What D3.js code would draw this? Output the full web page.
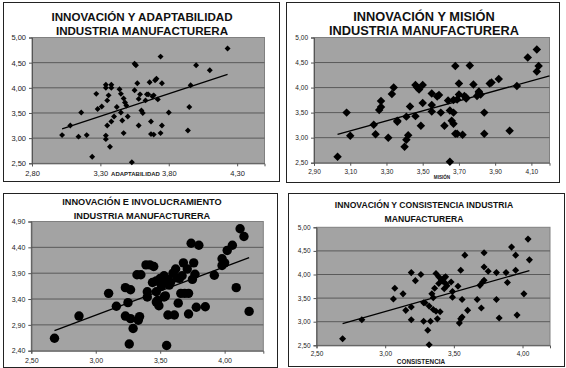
<!DOCTYPE html>
<html>
<head>
<meta charset="utf-8">
<script src="https://cdn.jsdelivr.net/npm/d3@7"></script>
<style>
  body { margin: 0; background: #fff; }
  svg { display: block; font-family: "Liberation Sans", Arial, sans-serif; }
</style>
</head>
<body>
<div id="chart"></div>
<script>
// data (x = dimension, y = innovación)
const adaptabilidad = [[3.02,3.06],[3.08,3.25],[3.14,3.03],[3.16,3.51],[3.20,3.06],[3.24,2.63],[3.27,3.88],[3.28,3.58],[3.31,3.63],[3.34,4.06],[3.34,4.00],[3.35,3.75],[3.35,3.25],[3.34,3.05],[3.34,2.98],[3.36,3.85],[3.37,2.83],[3.38,4.06],[3.38,4.00],[3.38,3.33],[3.40,3.43],[3.42,3.62],[3.44,3.97],[3.45,3.88],[3.45,3.51],[3.46,3.35],[3.47,3.10],[3.47,3.79],[3.48,3.71],[3.49,3.65],[3.50,3.43],[3.53,2.52],[3.55,3.95],[3.55,4.48],[3.56,4.45],[3.57,4.09],[3.58,3.78],[3.58,3.25],[3.59,3.87],[3.60,3.55],[3.61,3.50],[3.63,3.75],[3.64,3.87],[3.65,3.87],[3.66,4.11],[3.67,3.33],[3.67,3.08],[3.68,3.83],[3.69,3.85],[3.69,3.07],[3.70,4.15],[3.71,4.18],[3.72,3.77],[3.74,3.10],[3.74,4.62],[3.75,3.25],[3.75,4.09],[3.80,3.51],[3.94,3.15],[3.95,3.62],[3.96,4.05],[4.00,4.45],[4.10,4.35],[4.23,4.78]];

const mision = [[3.03,2.62],[3.08,3.50],[3.10,3.04],[3.23,3.26],[3.24,3.07],[3.27,3.73],[3.27,3.61],[3.26,3.55],[3.31,3.00],[3.33,3.87],[3.34,4.00],[3.36,3.34],[3.36,3.32],[3.40,2.82],[3.41,3.42],[3.41,2.96],[3.42,3.05],[3.43,3.62],[3.46,4.05],[3.47,4.00],[3.48,3.96],[3.46,3.43],[3.49,3.24],[3.50,4.05],[3.50,3.69],[3.55,3.65],[3.55,3.88],[3.55,3.52],[3.58,3.82],[3.59,3.85],[3.60,3.50],[3.62,3.24],[3.64,3.74],[3.65,3.54],[3.65,2.52],[3.66,3.34],[3.67,3.28],[3.67,3.50],[3.67,3.75],[3.68,3.08],[3.69,3.08],[3.68,4.43],[3.69,3.76],[3.70,4.08],[3.70,3.86],[3.72,3.06],[3.73,3.83],[3.74,3.80],[3.74,3.78],[3.76,4.44],[3.78,4.06],[3.80,3.83],[3.81,3.89],[3.81,3.92],[3.82,3.86],[3.84,3.50],[3.84,3.08],[3.87,4.08],[3.88,4.10],[3.92,4.17],[3.98,3.14],[4.02,4.03],[4.08,4.60],[4.13,4.76],[4.14,4.43],[4.13,4.32]];

const involucramiento = [[2.68,2.64],[2.87,3.07],[3.10,3.51],[3.16,3.26],[3.23,3.62],[3.27,3.58],[3.25,3.33],[3.23,3.07],[3.27,3.02],[3.29,2.83],[3.26,2.53],[3.33,2.99],[3.34,3.06],[3.32,3.87],[3.35,3.87],[3.39,4.06],[3.42,4.06],[3.45,4.03],[3.40,3.54],[3.40,3.44],[3.44,3.72],[3.47,3.75],[3.47,3.54],[3.49,3.27],[3.48,3.37],[3.53,3.85],[3.51,3.65],[3.54,3.73],[3.54,3.46],[3.56,3.78],[3.57,3.67],[3.56,3.09],[3.61,3.09],[3.55,2.50],[3.62,3.98],[3.63,3.81],[3.64,3.32],[3.66,3.51],[3.67,3.85],[3.68,4.10],[3.69,3.51],[3.71,3.98],[3.72,3.51],[3.72,3.11],[3.74,4.48],[3.75,3.78],[3.76,4.10],[3.77,3.88],[3.78,3.24],[3.80,4.44],[3.85,3.25],[3.92,3.86],[3.98,4.18],[3.98,4.05],[4.00,4.10],[4.02,4.34],[4.06,4.44],[4.09,3.62],[4.12,4.76],[4.15,4.61],[4.19,3.16],[3.50,3.80],[3.58,3.72],[3.60,3.90],[3.65,3.80],[3.53,3.44],[3.47,3.34]];

const consistencia = [[2.69,2.64],[2.83,3.04],[3.06,3.48],[3.07,3.71],[3.13,3.59],[3.15,3.24],[3.19,3.31],[3.19,3.04],[3.19,4.04],[3.22,3.87],[3.26,4.00],[3.28,3.40],[3.29,3.40],[3.28,3.01],[3.31,2.82],[3.33,3.01],[3.32,2.51],[3.32,3.33],[3.35,3.26],[3.34,3.59],[3.35,3.51],[3.36,3.71],[3.37,4.02],[3.37,3.22],[3.38,3.06],[3.39,3.95],[3.40,3.21],[3.39,3.81],[3.41,3.88],[3.42,3.86],[3.43,3.93],[3.43,3.70],[3.44,3.95],[3.44,3.81],[3.45,3.76],[3.48,3.84],[3.49,3.64],[3.49,3.52],[3.53,3.75],[3.54,2.97],[3.55,3.06],[3.56,3.10],[3.55,4.09],[3.56,3.47],[3.58,4.41],[3.60,3.24],[3.67,3.47],[3.69,3.77],[3.70,3.29],[3.71,3.84],[3.72,4.46],[3.72,4.16],[3.72,3.88],[3.75,4.07],[3.81,4.04],[3.81,3.47],[3.83,3.08],[3.88,4.04],[3.89,3.83],[3.92,4.58],[3.95,4.09],[3.95,4.41],[3.96,3.14],[4.01,3.59],[4.04,4.75],[4.05,4.31]];

// tick labels
const ticksAdapt = [2.8, 3.3, 3.8, 4.3];
const ticksMision = [2.9, 3.1, 3.3, 3.5, 3.7, 3.9, 4.1];
const ticksInvol = [2.5, 3.0, 3.5, 4.0];
const ticksConsist = [2.5, 3.0, 3.5, 4.0];
const ticksInnov = [2.5, 3.0, 3.5, 4.0, 4.5, 5.0];
const ticksInnovInvol = [2.4, 2.9, 3.4, 3.9, 4.4, 4.9];

const titles = [
  ["INNOVACIÓN Y ADAPTABILIDAD", "INDUSTRIA MANUFACTURERA"],
  ["INNOVACIÓN Y MISIÓN", "INDUSTRIA MANUFACTURERA"],
  ["INNOVACIÓN E INVOLUCRAMIENTO", "INDUSTRIA MANUFACTURERA"],
  ["INNOVACIÓN Y CONSISTENCIA INDUSTRIA", "MANUFACTURERA"]
];
const axisTitles = ["ADAPTABILIDAD", "MISIÓN", "", "CONSISTENCIA"];

const panels = [
  {data: adaptabilidad, title: titles[0], xName: axisTitles[0], xTicks: ticksAdapt, yTicks: ticksInnov,
   xDom: [2.8, 4.5], yDom: [2.5, 5], toEdge: false,
   frame: [3.5, 2.5, 276, 179], plot: [32, 37.5, 264.5, 163.3],
   titleSize: 11.6, titleY: [20.5, 34.5], titleX: 142,
   tickSize: 7.5, labelOff: 12.5, nameSize: 6, nameX: 135.5, nameY: 176,
   marker: "diamond", msize: 4.2},
  {data: mision, title: titles[1], xName: axisTitles[1], xTicks: ticksMision, yTicks: ticksInnov,
   xDom: [2.9, 4.2], yDom: [2.5, 5], toEdge: true,
   frame: [286.5, 2.5, 273, 180], plot: [314, 37.5, 549.5, 162.7],
   titleSize: 12.8, titleY: [21, 34.5], titleX: 424,
   tickSize: 6.5, labelOff: 11.5, nameSize: 4.6, nameX: 442, nameY: 179,
   marker: "diamond", msize: 6},
  {data: involucramiento, title: titles[2], xName: axisTitles[2], xTicks: ticksInvol, yTicks: ticksInnovInvol,
   xDom: [2.5, 4.3], yDom: [2.4, 4.9], toEdge: false,
   frame: [3.5, 193.5, 274, 174], plot: [31.3, 221.5, 263.3, 350.7],
   titleSize: 9.2, titleY: [205, 219], titleX: 142,
   tickSize: 7, labelOff: 12, nameSize: 6, nameX: 0, nameY: 0,
   marker: "circle", msize: 4.7},
  {data: consistencia, title: titles[3], xName: axisTitles[3], xTicks: ticksConsist, yTicks: ticksInnov,
   xDom: [2.5, 4.2], yDom: [2.5, 5], toEdge: false,
   frame: [288.5, 193.5, 276, 173], plot: [316.5, 227.3, 550, 345.3],
   titleSize: 8.6, titleY: [207.5, 221.5], titleX: 424,
   tickSize: 6.5, labelOff: 11, nameSize: 6.4, nameX: 421, nameY: 364,
   marker: "diamond", msize: 5}
];

const fmt = v => d3.format(".2f")(v).replace(".", ",");

const svg = d3.select("#chart").append("svg")
    .attr("width", 566)
    .attr("height", 368);

function drawPanel(p) {
  const g = svg.append("g");
  const [fx, fy, fw, fh] = p.frame;
  const [left, top, right, bottom] = p.plot;

  // chart frame
  g.append("rect")
      .attr("x", fx).attr("y", fy).attr("width", fw).attr("height", fh)
      .attr("fill", "#fff").attr("stroke", "#222").attr("stroke-width", 1);

  // title
  g.append("text")
      .attr("text-anchor", "middle")
      .attr("font-weight", "bold")
      .attr("font-size", p.titleSize)
      .attr("fill", "#111")
    .selectAll("tspan")
    .data(p.title)
    .join("tspan")
      .attr("x", p.titleX)
      .attr("y", (d, i) => p.titleY[i])
      .text(d => d);

  const x = d3.scaleLinear().domain(p.xDom).range([left, right]);
  const y = d3.scaleLinear().domain(p.yDom).range([bottom, top]);

  // plot area
  g.append("rect")
      .attr("x", left).attr("y", top)
      .attr("width", right - left).attr("height", bottom - top)
      .attr("fill", "#a3a3a3").attr("stroke", "#808080");

  // gridlines
  g.append("g")
    .selectAll("line")
    .data(p.yTicks.slice(1, -1))
    .join("line")
      .attr("x1", left).attr("x2", right)
      .attr("y1", d => y(d)).attr("y2", d => y(d))
      .attr("stroke", "#5a5a5a").attr("stroke-width", 1);

  // axes
  const yAxis = d3.axisLeft(y).tickValues(p.yTicks).tickFormat(fmt).tickSize(3).tickPadding(3);
  g.append("g")
      .attr("transform", `translate(${left},0)`)
      .call(yAxis)
      .call(a => a.select(".domain").attr("stroke", "#555"))
      .call(a => a.selectAll(".tick line").attr("stroke", "#555"))
      .call(a => a.selectAll("text").attr("font-size", p.tickSize).attr("fill", "#222")
                    .attr("font-family", "Liberation Sans, Arial, sans-serif"));

  const xAxis = d3.axisBottom(x).tickValues(p.xTicks).tickFormat(fmt).tickSize(3).tickPadding(0);
  g.append("g")
      .attr("transform", `translate(0,${bottom})`)
      .call(xAxis)
      .call(a => a.select(".domain").attr("stroke", "#555"))
      .call(a => a.selectAll(".tick line").attr("stroke", "#555"))
      .call(a => a.selectAll("text").attr("font-size", p.tickSize).attr("fill", "#222")
                    .attr("dy", null).attr("y", p.labelOff)
                    .attr("font-family", "Liberation Sans, Arial, sans-serif"));

  if (p.xName) {
    g.append("text")
        .attr("x", p.nameX).attr("y", p.nameY)
        .attr("text-anchor", "middle")
        .attr("font-weight", "bold")
        .attr("font-size", p.nameSize)
        .attr("fill", "#222")
        .text(p.xName);
  }

  // linear trend line (least squares)
  const mx = d3.mean(p.data, d => d[0]);
  const my = d3.mean(p.data, d => d[1]);
  const slope = d3.sum(p.data, d => (d[0] - mx) * (d[1] - my)) /
                d3.sum(p.data, d => (d[0] - mx) ** 2);
  const icpt = my - slope * mx;
  const ext = d3.extent(p.data, d => d[0]);
  const x0 = ext[0];
  const x1 = p.toEdge ? p.xDom[1] : ext[1];

  // markers
  const pts = g.append("g");
  if (p.marker === "circle") {
    pts.selectAll("circle")
      .data(p.data)
      .join("circle")
        .attr("cx", d => x(d[0]))
        .attr("cy", d => y(d[1]))
        .attr("r", p.msize)
        .attr("fill", "#000");
  } else {
    pts.selectAll("rect")
      .data(p.data)
      .join("rect")
        .attr("x", -p.msize / 2).attr("y", -p.msize / 2)
        .attr("width", p.msize).attr("height", p.msize)
        .attr("transform", d => `translate(${x(d[0])},${y(d[1])}) rotate(45)`)
        .attr("fill", "#000");
  }

  g.append("line")
      .attr("x1", x(x0)).attr("y1", y(icpt + slope * x0))
      .attr("x2", x(x1)).attr("y2", y(icpt + slope * x1))
      .attr("stroke", "#000").attr("stroke-width", 1.3);
}

panels.forEach(drawPanel);
</script>
</body>
</html>
